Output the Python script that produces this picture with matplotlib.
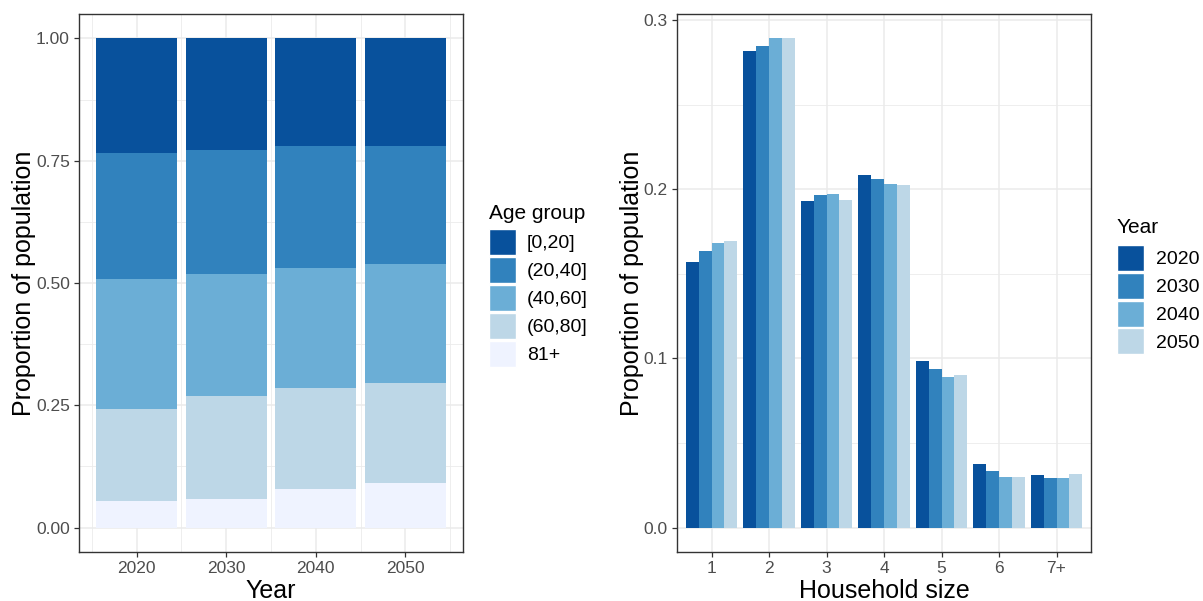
import matplotlib.pyplot as plt
import numpy as np
from matplotlib.patches import Patch
from matplotlib.ticker import MultipleLocator

plt.rcParams['font.family'] = ['Liberation Sans', 'DejaVu Sans']

# Left panel: age structure by year (stacked, bottom -> top order below)
years = [2020, 2030, 2040, 2050]
age_groups = ['[0,20]', '(20,40]', '(40,60]', '(60,80]', '81+']
age_props = {
    '[0,20]':  [0.235, 0.229, 0.220, 0.220],
    '(20,40]': [0.256, 0.253, 0.249, 0.242],
    '(40,60]': [0.266, 0.249, 0.246, 0.243],
    '(60,80]': [0.189, 0.210, 0.206, 0.204],
    '81+':     [0.054, 0.059, 0.079, 0.091],
}

# Right panel: household size distribution by year
hh_sizes = ['1', '2', '3', '4', '5', '6', '7+']
hh_props = {
    2020: [0.157, 0.2816, 0.1929, 0.2083, 0.0987, 0.0375, 0.0310],
    2030: [0.1637, 0.2845, 0.1966, 0.2059, 0.0936, 0.0333, 0.0294],
    2040: [0.1681, 0.2894, 0.1974, 0.2031, 0.0892, 0.0301, 0.0294],
    2050: [0.1694, 0.2894, 0.1937, 0.2024, 0.0901, 0.0301, 0.0317],
}

blues = ['#08519c', '#3182bd', '#6baed6', '#bdd7e7', '#eff3ff']
grid_col = '#ebebeb'
text_col = '#4d4d4d'
border_col = '#333333'

fig = plt.figure(figsize=(12.03, 6.01), dpi=100)
ax1 = fig.add_axes([79 / 1203, 49 / 601, 384 / 1203, 538 / 601])
ax2 = fig.add_axes([677 / 1203, 49 / 601, 414 / 1203, 538 / 601])


def style(ax):
    ax.set_axisbelow(True)
    ax.grid(which='major', color=grid_col, linewidth=1.1)
    ax.grid(which='minor', color=grid_col, linewidth=0.6)
    for s in ax.spines.values():
        s.set_color(border_col)
        s.set_linewidth(1.0)
    ax.tick_params(which='major', length=3.5, width=0.9, color=border_col,
                   labelsize=12.5, labelcolor=text_col, pad=3)
    ax.tick_params(which='minor', length=0)


# stacked bars, top group drawn on top
x = np.array(years)
bottom = np.zeros(len(years))
for name, col in zip(age_groups[::-1], blues[::-1]):
    vals = np.array(age_props[name])
    ax1.bar(x, vals, width=9, bottom=bottom, color=col, linewidth=0)
    bottom += vals

ax1.set_xlim(2013.55, 2056.45)
ax1.set_ylim(-0.05, 1.05)
ax1.set_xticks(years)
ax1.xaxis.set_minor_locator(MultipleLocator(10, offset=5))
ax1.set_yticks([0, 0.25, 0.5, 0.75, 1.0])
ax1.set_yticklabels(['0.00', '0.25', '0.50', '0.75', '1.00'])
ax1.yaxis.set_minor_locator(MultipleLocator(0.25, offset=0.125))
style(ax1)
ax1.set_xlabel('Year', fontsize=18, labelpad=2)
ax1.set_ylabel('Proportion of population', fontsize=18, labelpad=0)

handles1 = [Patch(facecolor=c, edgecolor='white', linewidth=1) for c in blues]
leg1 = fig.legend(handles1, age_groups, title='Age group',
                  loc='upper left', bbox_to_anchor=(489 / 1203, 1 - 204 / 601),
                  frameon=False, fontsize=14, title_fontsize=15,
                  handlelength=1.4, handleheight=1.68, labelspacing=0.1,
                  handletextpad=0.55, borderpad=0, borderaxespad=0,
                  alignment='left')
leg1._legend_box.sep = 4.3

# grouped bars
pos = np.arange(len(hh_sizes))
bw = 0.9 / 4
for i, (yr, col) in enumerate(zip(years, blues[:4])):
    ax2.bar(pos + (i - 1.5) * bw, hh_props[yr], width=bw, color=col, linewidth=0)

ax2.set_xlim(-0.6, len(hh_sizes) - 0.4)
ax2.set_ylim(-0.0144, 0.3035)
ax2.set_xticks(pos)
ax2.set_xticklabels(hh_sizes)
ax2.set_yticks([0, 0.1, 0.2, 0.3])
ax2.set_yticklabels(['0.0', '0.1', '0.2', '0.3'])
ax2.yaxis.set_minor_locator(MultipleLocator(0.1, offset=0.05))
style(ax2)
ax2.set_xlabel('Household size', fontsize=18, labelpad=2)
ax2.set_ylabel('Proportion of population', fontsize=18, labelpad=0)

handles2 = [Patch(facecolor=c, edgecolor='white', linewidth=1) for c in blues[:4]]
leg2 = fig.legend(handles2, [str(y) for y in years], title='Year',
                  loc='upper left', bbox_to_anchor=(1117 / 1203, 1 - 218 / 601),
                  frameon=False, fontsize=14, title_fontsize=15,
                  handlelength=1.4, handleheight=1.68, labelspacing=0.1,
                  handletextpad=0.6, borderpad=0, borderaxespad=0,
                  alignment='left')
leg2._legend_box.sep = 5.5

fig.savefig('out.png', dpi=100)
